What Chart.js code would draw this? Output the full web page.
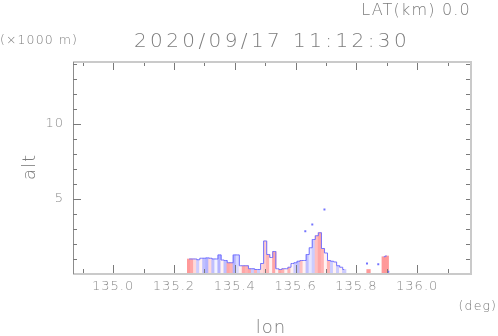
<!DOCTYPE html>
<html>
<head>
<meta charset="utf-8">
<script src="https://cdn.jsdelivr.net/npm/chart.js@4"></script>
<style>
  html, body { margin: 0; padding: 0; background: #fff; }
  #wrap { width: 498px; height: 336px; }
</style>
</head>
<body>
<div id="wrap"><canvas id="c" width="498" height="336"></canvas></div>
<script>
// axis ranges and ticks
const lonRange = [134.868, 136.177];
const altRange = [0, 14.13];
const lonMajor = [135.0, 135.2, 135.4, 135.6, 135.8, 136.0];
const lonMinor = [134.9, 135.1, 135.3, 135.5, 135.7, 135.9, 136.1];
const altMajor = [5, 10];
const altMinor = [1, 2, 3, 4, 6, 7, 8, 9, 11, 12, 13, 14];

// echo columns: longitude bin, echo top (km), doppler value (-1 blue .. +1 red)
const lon = [135.25, 135.26, 135.27, 135.28, 135.29, 135.30, 135.31, 135.32, 135.33, 135.34,
  135.35, 135.36, 135.37, 135.38, 135.39, 135.40, 135.41, 135.42, 135.43, 135.44,
  135.45, 135.46, 135.47, 135.48, 135.49, 135.50, 135.51, 135.52, 135.53, 135.54,
  135.55, 135.56, 135.57, 135.58, 135.59, 135.60, 135.61, 135.62, 135.63, 135.64,
  135.65, 135.66, 135.67, 135.68, 135.69, 135.70, 135.71, 135.72, 135.73, 135.74,
  135.75, 135.76, 135.77, 135.78, 135.79, 135.80, 135.81, 135.82, 135.83, 135.84,
  135.85, 135.86, 135.87, 135.88, 135.89, 135.90];
const echoTop = [1.0, 1.0, 1.0, 0.95, 1.05, 1.05, 1.07, 1.05, 1.0, 1.0,
  1.27, 0.93, 0.9, 0.75, 0.75, 1.27, 1.27, 0.55, 0.55, 0.55,
  0.35, 0.35, 0.3, 0.3, 0.7, 2.2, 1.3, 1.1, 1.5, 0.35,
  0.3, 0.35, 0.35, 0.45, 0.7, 0.75, 0.85, 0.9, 0.9, 1.3,
  1.75, 2.3, 2.55, 2.75, 1.7, 1.4, 0.9, 0.85, 0.8, 0.55,
  0.45, 0.3, null, null, null, null, null, null, null, 0.3,
  null, null, null, null, 1.15, 1.2];
const doppler = [0.8, 0.7, 0.3, -0.4, 0.1, -0.5, -0.6, 0.3, -0.5, -0.1,
  -0.6, 0.1, -0.5, 0.7, 0.6, -0.6, -0.3, 0.1, 0.7, 0.6,
  0.7, -0.4, 0.6, -0.4, 0.3, 0.4, 0.6, 0.1, 0.7, 0.1,
  0.7, 0.6, 0.1, 0.6, 0.1, -0.4, -0.5, 0.5, 0.1, -0.5,
  -0.2, -0.4, 0.5, 0.7, 0.6, 0.1, 0.6, -0.4, 0.1, -0.4,
  0.1, -0.4, 0, 0, 0, 0, 0, 0, 0, 0.8,
  0, 0, 0, 0, 0.8, 0.8];

// isolated echo pixels above the main layer
const specks = [
  { x: 135.632, y: 2.85 }, { x: 135.655, y: 3.3 }, { x: 135.695, y: 4.3 },
  { x: 135.835, y: 0.7 }, { x: 135.872, y: 0.65 }, { x: 135.905, y: 0.15 }
];

const labels = {
  title: "2020/09/17 11:12:30",
  lat: "LAT(km) 0.0",
  altUnit: "(\u00d71000 m)",
  lonUnit: "(deg)",
  xName: "lon",
  yName: "alt"
};

function dopplerColor(v) {
  const k = 0.5 * Math.min(1, Math.abs(v)); // how far from white
  const c = Math.round(255 - 255 * k);
  return v >= 0 ? `rgb(255,${c},${c})` : `rgb(${c},${c},255)`;
}

const columns = lon.map((x, i) => ({ x, y: echoTop[i] }));

const framePlugin = {
  id: "frame",
  afterDatasetsDraw(chart) {
    const { ctx, chartArea: a, scales } = chart;
    const xs = scales.x, ys = scales.y;
    ctx.save();

    // light frame on top, right, bottom
    ctx.strokeStyle = "#cacaca";
    ctx.lineWidth = 2;
    ctx.beginPath();
    ctx.moveTo(a.left, a.top);
    ctx.lineTo(a.right, a.top);
    ctx.lineTo(a.right, a.bottom);
    ctx.lineTo(a.left, a.bottom);
    ctx.stroke();

    // darker left spine
    ctx.strokeStyle = "#8c8c8c";
    ctx.lineWidth = 1;
    ctx.beginPath();
    ctx.moveTo(a.left + 0.5, a.top);
    ctx.lineTo(a.left + 0.5, a.bottom);
    ctx.stroke();

    // inward ticks
    ctx.strokeStyle = "#7a7a7a";
    ctx.beginPath();
    lonMajor.forEach(v => {
      const px = Math.round(xs.getPixelForValue(v)) + 0.5;
      ctx.moveTo(px, a.bottom - 1); ctx.lineTo(px, a.bottom - 9);
      ctx.moveTo(px, a.top + 1); ctx.lineTo(px, a.top + 8);
    });
    lonMinor.forEach(v => {
      const px = Math.round(xs.getPixelForValue(v)) + 0.5;
      ctx.moveTo(px, a.bottom - 1); ctx.lineTo(px, a.bottom - 5);
      ctx.moveTo(px, a.top + 1); ctx.lineTo(px, a.top + 4);
    });
    altMajor.forEach(v => {
      const py = Math.round(ys.getPixelForValue(v)) + 0.5;
      ctx.moveTo(a.left, py); ctx.lineTo(a.left + 8, py);
      ctx.moveTo(a.right - 1, py); ctx.lineTo(a.right - 5, py);
    });
    altMinor.forEach(v => {
      const py = Math.round(ys.getPixelForValue(v)) + 0.5;
      ctx.moveTo(a.left, py); ctx.lineTo(a.left + 4, py);
      ctx.moveTo(a.right - 1, py); ctx.lineTo(a.right - 5, py);
    });
    ctx.stroke();

    // tick labels
    ctx.fillStyle = "#8a8a8a";
    ctx.font = "300 13px 'DejaVu Sans'";
    ctx.letterSpacing = "1px";
    ctx.textAlign = "center";
    ctx.textBaseline = "middle";
    lonMajor.forEach(v => {
      ctx.fillText(v.toFixed(1), xs.getPixelForValue(v), 287);
    });
    ctx.textAlign = "right";
    altMajor.forEach(v => {
      ctx.fillText(String(v), 64, ys.getPixelForValue(v));
    });

    // titles
    ctx.fillStyle = "#7c7c7c";
    ctx.textAlign = "center";
    ctx.font = "300 20px 'DejaVu Sans'";
    ctx.letterSpacing = "3.4px";
    ctx.fillText(labels.title, 272, 42);

    ctx.font = "300 16px 'DejaVu Sans'";
    ctx.letterSpacing = "1.2px";
    ctx.textAlign = "right";
    ctx.fillText(labels.lat, 471, 11);

    ctx.font = "300 12.5px 'DejaVu Sans'";
    ctx.letterSpacing = "1.1px";
    ctx.textAlign = "left";
    ctx.fillText(labels.altUnit, 0, 41);
    ctx.textAlign = "right";
    ctx.fillText(labels.lonUnit, 497, 307);

    ctx.font = "300 18px 'DejaVu Sans'";
    ctx.letterSpacing = "1px";
    ctx.textAlign = "center";
    ctx.fillText(labels.xName, 271, 328);

    ctx.save();
    ctx.translate(30, 167);
    ctx.rotate(-Math.PI / 2);
    ctx.fillText(labels.yName, 0, 0);
    ctx.restore();

    ctx.restore();
  }
};

new Chart(document.getElementById("c"), {
  type: "bar",
  data: {
    datasets: [
      {
        type: "line",
        data: columns,
        borderColor: "#7373ff",
        borderWidth: 1,
        stepped: "middle",
        pointRadius: 0,
        spanGaps: false,
        order: 0
      },
      {
        type: "scatter",
        data: specks,
        pointStyle: "rect",
        pointRadius: 1.4,
        backgroundColor: "#7373ff",
        borderWidth: 0,
        order: 0
      },
      {
        type: "bar",
        data: columns,
        backgroundColor: doppler.map(dopplerColor),
        borderWidth: 0,
        barThickness: 3.6,
        order: 1
      }
    ]
  },
  options: {
    responsive: false,
    animation: false,
    events: [],
    layout: { padding: { left: 73, right: 27, top: 62, bottom: 62 } },
    plugins: { legend: { display: false }, tooltip: { enabled: false } },
    scales: {
      x: { type: "linear", offset: false, min: lonRange[0], max: lonRange[1], display: false },
      y: { type: "linear", min: altRange[0], max: altRange[1], display: false }
    }
  },
  plugins: [framePlugin]
});
</script>
</body>
</html>
